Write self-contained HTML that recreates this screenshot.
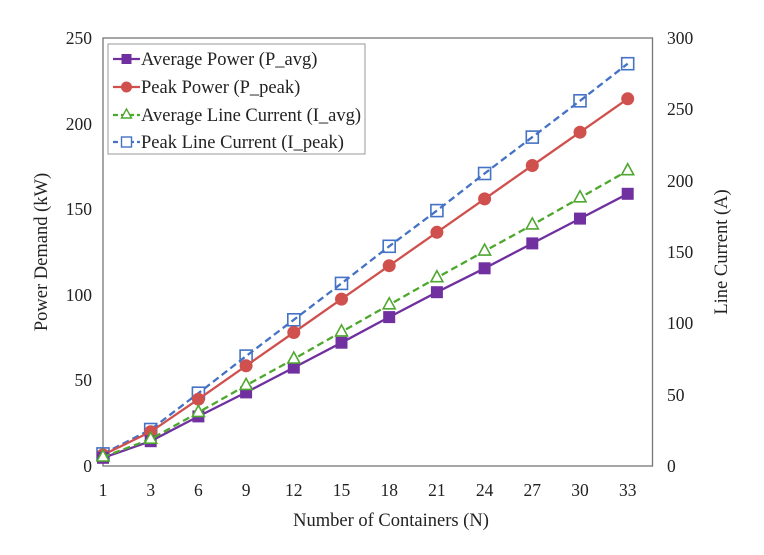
<!DOCTYPE html>
<html><head><meta charset="utf-8"><style>
body{margin:0;background:#fff}
text{font-family:"Liberation Serif",serif;fill:#222}
</style></head><body>
<svg width="764" height="550" viewBox="0 0 764 550" xmlns="http://www.w3.org/2000/svg">
<rect x="103" y="38" width="549.5" height="428" fill="none" stroke="#777" stroke-width="1.3"/>
<g font-size="17.5" text-anchor="end">
<text x="92" y="472">0</text><text x="92" y="386">50</text><text x="92" y="301">100</text><text x="92" y="215">150</text><text x="92" y="130">200</text><text x="92" y="44">250</text>
</g>
<g font-size="17.5" text-anchor="start">
<text x="667" y="472">0</text><text x="667" y="401">50</text><text x="667" y="329">100</text><text x="667" y="258">150</text><text x="667" y="187">200</text><text x="667" y="115">250</text><text x="667" y="44">300</text>
</g>
<g font-size="17.5" text-anchor="middle">
<text x="103" y="496">1</text><text x="150.7" y="496">3</text><text x="198.4" y="496">6</text><text x="246.1" y="496">9</text><text x="293.8" y="496">12</text><text x="341.5" y="496">15</text><text x="389.2" y="496">18</text><text x="436.9" y="496">21</text><text x="484.6" y="496">24</text><text x="532.3" y="496">27</text><text x="580" y="496">30</text><text x="627.7" y="496">33</text>
</g>
<text x="391" y="526" font-size="18.5" text-anchor="middle">Number of Containers (N)</text>
<text transform="translate(47,252) rotate(-90)" font-size="18.5" text-anchor="middle">Power Demand (kW)</text>
<text transform="translate(727,252) rotate(-90)" font-size="18.5" text-anchor="middle">Line Current (A)</text>

<polyline fill="none" stroke="#4472C4" stroke-width="2.3" stroke-dasharray="7,4" points="103,453.9 150.7,429.5 198.4,393.2 246.1,356.1 293.8,319.8 341.5,283.4 389.2,246.3 436.9,210.6 484.6,173.5 532.3,137.1 580,100.8 627.7,63.7"/>
<g fill="none" stroke="#4472C4" stroke-width="1.6">
<rect x="97" y="447.9" width="12" height="12"/><rect x="144.7" y="423.5" width="12" height="12"/><rect x="192.4" y="387.2" width="12" height="12"/><rect x="240.1" y="350.1" width="12" height="12"/><rect x="287.8" y="313.8" width="12" height="12"/><rect x="335.5" y="277.4" width="12" height="12"/><rect x="383.2" y="240.3" width="12" height="12"/><rect x="430.9" y="204.6" width="12" height="12"/><rect x="478.6" y="167.5" width="12" height="12"/><rect x="526.3" y="131.1" width="12" height="12"/><rect x="574" y="94.8" width="12" height="12"/><rect x="621.7" y="57.7" width="12" height="12"/>
</g>
<polyline fill="none" stroke="#D0504D" stroke-width="2.3" points="103,454.9 150.7,431.8 198.4,399.2 246.1,365.8 293.8,332.5 341.5,299.1 389.2,265.7 436.9,232.3 484.6,198.9 532.3,165.5 580,132.2 627.7,98.8"/>
<g fill="#D0504D">
<circle cx="103" cy="454.9" r="6.5"/><circle cx="150.7" cy="431.8" r="6.5"/><circle cx="198.4" cy="399.2" r="6.5"/><circle cx="246.1" cy="365.8" r="6.5"/><circle cx="293.8" cy="332.5" r="6.5"/><circle cx="341.5" cy="299.1" r="6.5"/><circle cx="389.2" cy="265.7" r="6.5"/><circle cx="436.9" cy="232.3" r="6.5"/><circle cx="484.6" cy="198.9" r="6.5"/><circle cx="532.3" cy="165.5" r="6.5"/><circle cx="580" cy="132.2" r="6.5"/><circle cx="627.7" cy="98.8" r="6.5"/>
</g>
<polyline fill="none" stroke="#7030A0" stroke-width="2.3" points="103,457.8 150.7,441.2 198.4,416.4 246.1,392.4 293.8,367.6 341.5,342.7 389.2,317.1 436.9,292.2 484.6,268.3 532.3,243.4 580,218.6 627.7,193.8"/>
<g fill="#7030A0">
<rect x="97" y="451.8" width="12" height="12"/><rect x="144.7" y="435.2" width="12" height="12"/><rect x="192.4" y="410.4" width="12" height="12"/><rect x="240.1" y="386.4" width="12" height="12"/><rect x="287.8" y="361.6" width="12" height="12"/><rect x="335.5" y="336.7" width="12" height="12"/><rect x="383.2" y="311.1" width="12" height="12"/><rect x="430.9" y="286.2" width="12" height="12"/><rect x="478.6" y="262.3" width="12" height="12"/><rect x="526.3" y="237.4" width="12" height="12"/><rect x="574" y="212.6" width="12" height="12"/><rect x="621.7" y="187.8" width="12" height="12"/>
</g>
<polyline fill="none" stroke="#4EA72E" stroke-width="2.3" stroke-dasharray="7,4" points="103,457 150.7,439.2 198.4,412.4 246.1,385.4 293.8,359 341.5,331.9 389.2,304.8 436.9,277.7 484.6,251.1 532.3,224.9 580,197.8 627.7,170.7"/>
<g fill="#fff" stroke="#4EA72E" stroke-width="1.6">
<polygon points="103,450 109,461 97,461"/><polygon points="150.7,432.2 156.7,443.2 144.7,443.2"/><polygon points="198.4,405.4 204.4,416.4 192.4,416.4"/><polygon points="246.1,378.4 252.1,389.4 240.1,389.4"/><polygon points="293.8,352 299.8,363 287.8,363"/><polygon points="341.5,324.9 347.5,335.9 335.5,335.9"/><polygon points="389.2,297.8 395.2,308.8 383.2,308.8"/><polygon points="436.9,270.7 442.9,281.7 430.9,281.7"/><polygon points="484.6,244.1 490.6,255.1 478.6,255.1"/><polygon points="532.3,217.9 538.3,228.9 526.3,228.9"/><polygon points="580,190.8 586,201.8 574,201.8"/><polygon points="627.7,163.7 633.7,174.7 621.7,174.7"/>
</g>
<rect x="108" y="44" width="257" height="110" fill="#fff" stroke="#999" stroke-width="1"/>
<g font-size="18.5">
<line x1="113" y1="59" x2="140" y2="59" stroke="#7030A0" stroke-width="2.3"/><rect x="121.5" y="54" width="10" height="10" fill="#7030A0"/>
<text x="141" y="65">Average Power (P_avg)</text>
<line x1="113" y1="87" x2="140" y2="87" stroke="#D0504D" stroke-width="2.3"/><circle cx="126.5" cy="87" r="5.5" fill="#D0504D"/>
<text x="141" y="93">Peak Power (P_peak)</text>
<line x1="113" y1="115" x2="140" y2="115" stroke="#4EA72E" stroke-width="2.3" stroke-dasharray="5,3"/><polygon points="126.5,109 131.5,118 121.5,118" fill="#fff" stroke="#4EA72E" stroke-width="1.4"/>
<text x="141" y="121">Average Line Current (I_avg)</text>
<line x1="113" y1="142" x2="140" y2="142" stroke="#4472C4" stroke-width="2.3" stroke-dasharray="5,3"/><rect x="121.5" y="137" width="10" height="10" fill="#fff" stroke="#4472C4" stroke-width="1.4"/>
<text x="141" y="148">Peak Line Current (I_peak)</text>
</g>
</svg>
</body></html>
